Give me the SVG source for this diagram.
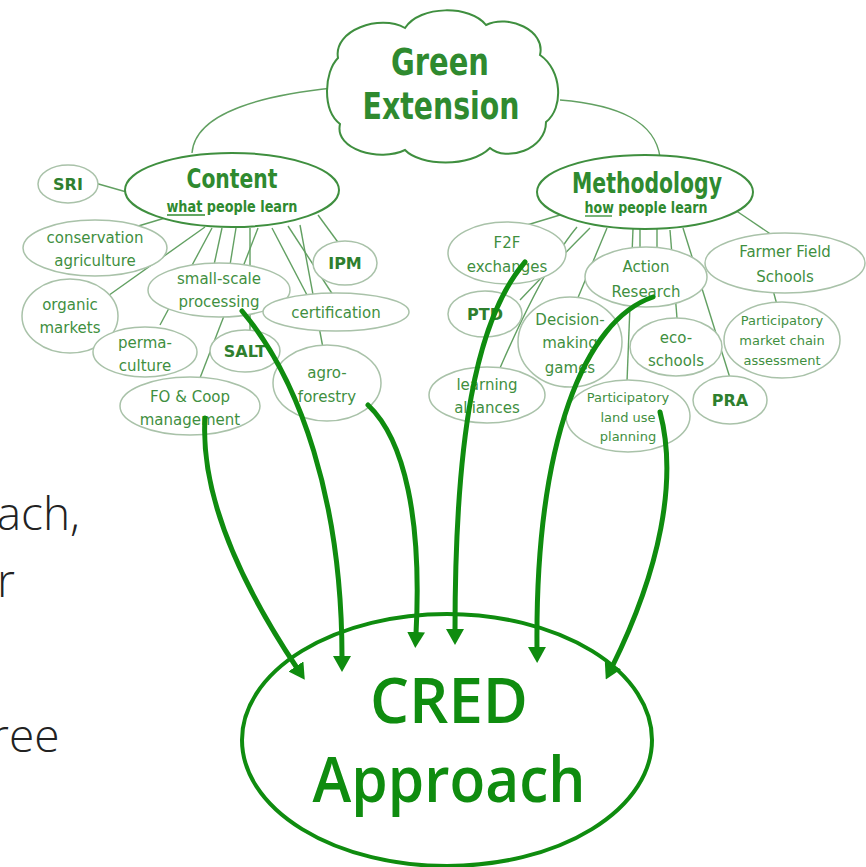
<svg xmlns="http://www.w3.org/2000/svg" width="866" height="867" viewBox="0 0 866 867">
<style>
.thin{fill:none;stroke:#62a062;stroke-width:1.4}
.child{fill:#fff;stroke:#a9c2a9;stroke-width:1.5}
.main{fill:#fff;stroke:#3f8f3f;stroke-width:2}
.lbl{font-family:"DejaVu Sans",sans-serif;font-size:15px;fill:#3f8f3f;text-anchor:middle}
.sm{font-size:13px}
.b{font-weight:bold;fill:#2e7f2e;font-size:16px}
.title{font-family:"DejaVu Sans",sans-serif;font-weight:bold;font-stretch:condensed;fill:#2f8a2f;text-anchor:middle}
.arrow{fill:none;stroke:#0f8c0f;stroke-width:5;stroke-linecap:round;marker-end:url(#ah)}
.side{font-family:"Open Sans",sans-serif;font-weight:300;font-size:46px;fill:#222}
</style>
<defs>
<marker id="ah" markerUnits="userSpaceOnUse" viewBox="0 0 16 18" markerWidth="16" markerHeight="18" refX="2" refY="9" orient="auto">
<path d="M0,0 L16,9 L0,18 z" fill="#0f8c0f"/>
</marker>
</defs>
<rect width="866" height="867" fill="#fff"/>

<g id="side-text">
<text class="side" x="80" y="530" text-anchor="end">ach,</text>
<text class="side" x="-3" y="597">r</text>
<text class="side" x="-9" y="752">ree</text>
</g>

<g id="connectors">
<path class="thin" d="M333,88 C265,95 195,112 192,153"/>
<path class="thin" d="M560,100 C620,105 655,122 660,157"/>
<line class="thin" x1="95" y1="183" x2="130" y2="193"/>
<line class="thin" x1="165" y1="218" x2="135" y2="227"/>
<line class="thin" x1="205" y1="227" x2="105" y2="298"/>
<line class="thin" x1="212" y1="228" x2="160" y2="325"/>
<line class="thin" x1="222" y1="228" x2="214" y2="265"/>
<line class="thin" x1="236" y1="228" x2="230" y2="265"/>
<line class="thin" x1="258" y1="228" x2="200" y2="378"/>
<line class="thin" x1="250" y1="228" x2="250" y2="332"/>
<line class="thin" x1="272" y1="228" x2="307" y2="295"/>
<line class="thin" x1="288" y1="226" x2="333" y2="295"/>
<line class="thin" x1="300" y1="225" x2="323" y2="348"/>
<line class="thin" x1="318" y1="215" x2="340" y2="245"/>
<line class="thin" x1="560" y1="215" x2="527" y2="225"/>
<path class="thin" d="M577,227 Q545,265 500,368"/>
<path class="thin" d="M590,228 Q560,258 520,300"/>
<line class="thin" x1="607" y1="228" x2="577" y2="300"/>
<line class="thin" x1="640" y1="229" x2="640" y2="250"/>
<line class="thin" x1="657" y1="229" x2="657" y2="250"/>
<line class="thin" x1="670" y1="230" x2="677" y2="318"/>
<line class="thin" x1="683" y1="228" x2="730" y2="378"/>
<line class="thin" x1="633" y1="229" x2="627" y2="382"/>
<line class="thin" x1="735" y1="210" x2="772" y2="235"/>
<line class="thin" x1="773" y1="290" x2="777" y2="305"/>
</g>

<g id="green-extension">
<path class="main" stroke-width="2.5" d="M338,58 C333,30 380,14 405,28 C420,5 470,5 486,25 C508,14 546,30 540,55 C562,70 564,108 546,122 C546,150 506,162 490,148 C470,168 420,166 405,150 C380,162 334,150 340,124 C322,110 324,72 338,58 Z"/>
<text class="title" x="440" y="75" font-size="37" textLength="98" lengthAdjust="spacingAndGlyphs">Green</text>
<text class="title" x="441" y="119" font-size="37" textLength="157" lengthAdjust="spacingAndGlyphs">Extension</text>
</g>

<g id="content">
<ellipse class="main" cx="232" cy="190" rx="107" ry="37"/>
<text class="title" x="232" y="188" font-size="27" textLength="91" lengthAdjust="spacingAndGlyphs">Content</text>
<text class="title" x="232" y="212" font-size="15" textLength="131" lengthAdjust="spacingAndGlyphs">what people learn</text>
<line x1="167" y1="215" x2="205" y2="215" stroke="#2f8a2f" stroke-width="1.3"/>
</g>

<g id="methodology">
<ellipse class="main" cx="645" cy="192" rx="108" ry="37"/>
<text class="title" x="647" y="193" font-size="29" textLength="150" lengthAdjust="spacingAndGlyphs">Methodology</text>
<text class="title" x="646" y="213" font-size="15" textLength="123" lengthAdjust="spacingAndGlyphs">how people learn</text>
<line x1="585" y1="216" x2="612" y2="216" stroke="#2f8a2f" stroke-width="1.3"/>
</g>

<g id="sri"><ellipse class="child" cx="68" cy="184" rx="30" ry="19"/><text class="lbl b" x="68" y="190">SRI</text></g>
<g id="conservation-agriculture"><ellipse class="child" cx="95" cy="248" rx="72" ry="28"/><text class="lbl" x="95" y="243">conservation</text><text class="lbl" x="95" y="266">agriculture</text></g>
<g id="organic-markets"><ellipse class="child" cx="70" cy="316" rx="48" ry="37"/><text class="lbl" x="70" y="310">organic</text><text class="lbl" x="70" y="333">markets</text></g>
<g id="small-scale-processing"><ellipse class="child" cx="219" cy="290" rx="71" ry="27"/><text class="lbl" x="219" y="284">small-scale</text><text class="lbl" x="219" y="307">processing</text></g>
<g id="ipm"><ellipse class="child" cx="345" cy="263" rx="32" ry="22"/><text class="lbl b" x="345" y="269">IPM</text></g>
<g id="certification"><ellipse class="child" cx="336" cy="312" rx="73" ry="19"/><text class="lbl" x="336" y="318">certification</text></g>
<g id="permaculture"><ellipse class="child" cx="145" cy="352" rx="52" ry="25"/><text class="lbl" x="145" y="348">perma-</text><text class="lbl" x="145" y="371">culture</text></g>
<g id="salt"><ellipse class="child" cx="245" cy="351" rx="35" ry="21"/><text class="lbl b" x="245" y="357">SALT</text></g>
<g id="fo-coop"><ellipse class="child" cx="190" cy="406" rx="70" ry="29"/><text class="lbl" x="190" y="402">FO &amp; Coop</text><text class="lbl" x="190" y="425">management</text></g>
<g id="agroforestry"><ellipse class="child" cx="327" cy="383" rx="54" ry="38"/><text class="lbl" x="327" y="378">agro-</text><text class="lbl" x="327" y="402">forestry</text></g>

<g id="f2f"><ellipse class="child" cx="507" cy="253" rx="59" ry="31"/><text class="lbl" x="507" y="248">F2F</text><text class="lbl" x="507" y="272">exchanges</text></g>
<g id="action-research"><ellipse class="child" cx="646" cy="277" rx="61" ry="30"/><text class="lbl" x="646" y="272">Action</text><text class="lbl" x="646" y="297">Research</text></g>
<g id="farmer-field-schools"><ellipse class="child" cx="785" cy="263" rx="80" ry="30"/><text class="lbl" x="785" y="257">Farmer Field</text><text class="lbl" x="785" y="282">Schools</text></g>
<g id="ptd"><ellipse class="child" cx="485" cy="314" rx="37" ry="23"/><text class="lbl b" x="485" y="320">PTD</text></g>
<g id="decision-making-games"><ellipse class="child" cx="570" cy="342" rx="52" ry="45"/><text class="lbl" x="570" y="325">Decision-</text><text class="lbl" x="570" y="348">making</text><text class="lbl" x="570" y="373">games</text></g>
<g id="eco-schools"><ellipse class="child" cx="676" cy="347" rx="46" ry="29"/><text class="lbl" x="676" y="343">eco-</text><text class="lbl" x="676" y="366">schools</text></g>
<g id="market-chain"><ellipse class="child" cx="782" cy="340" rx="58" ry="38"/><text class="lbl sm" x="782" y="325">Participatory</text><text class="lbl sm" x="782" y="345">market chain</text><text class="lbl sm" x="782" y="365">assessment</text></g>
<g id="learning-alliances"><ellipse class="child" cx="487" cy="395" rx="58" ry="28"/><text class="lbl" x="487" y="390">learning</text><text class="lbl" x="487" y="413">alliances</text></g>
<g id="land-use-planning"><ellipse class="child" cx="628" cy="416" rx="62" ry="36"/><text class="lbl sm" x="628" y="402">Participatory</text><text class="lbl sm" x="628" y="422">land use</text><text class="lbl sm" x="628" y="441">planning</text></g>
<g id="pra"><ellipse class="child" cx="730" cy="400" rx="37" ry="24"/><text class="lbl b" x="730" y="406" font-size="17">PRA</text></g>

<g id="cred">
<ellipse cx="447" cy="740" rx="205" ry="126" fill="none" stroke="#0f8c0f" stroke-width="4"/>
<text x="449" y="723" font-family="'Open Sans',sans-serif" font-weight="600" font-size="64" fill="#0f8c0f" text-anchor="middle" textLength="158" lengthAdjust="spacingAndGlyphs">CRED</text>
<text x="449" y="802" font-family="'Open Sans',sans-serif" font-weight="600" font-size="64" fill="#0f8c0f" text-anchor="middle" textLength="273" lengthAdjust="spacingAndGlyphs">Approach</text>
</g>

<g id="arrows">
<path class="arrow" d="M205,418 C200,500 245,590 297,668"/>
<path class="arrow" d="M242,311 C300,380 342,500 342,658"/>
<path class="arrow" d="M368,405 C405,440 422,520 416,634"/>
<path class="arrow" d="M525,262 C475,320 455,440 455,631"/>
<path class="arrow" d="M653,297 C585,320 535,440 537,649"/>
<path class="arrow" d="M660,412 C678,480 660,570 612,667"/>
</g>
</svg>
